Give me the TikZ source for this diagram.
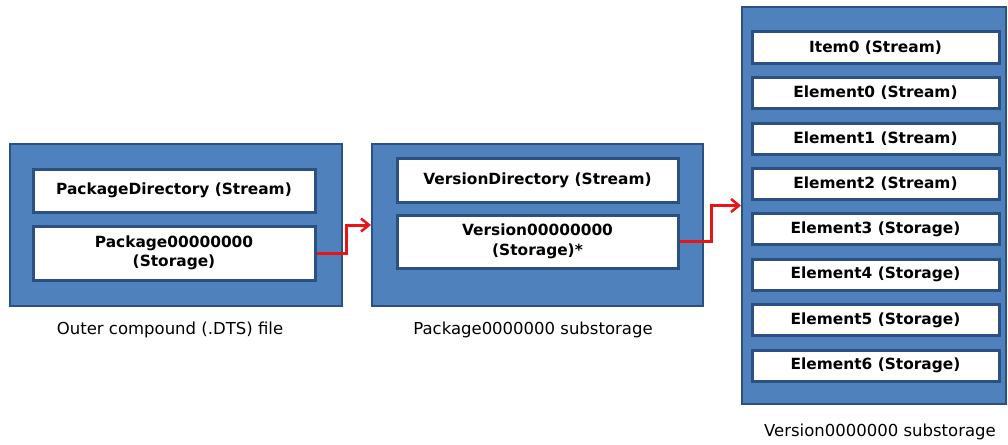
\documentclass[tikz,border=0pt]{standalone}
\usepackage{fontspec}
\setmainfont{DejaVu Sans}
\usetikzlibrary{arrows.meta}
\definecolor{boxblue}{RGB}{79,129,189}
\definecolor{boxedge}{RGB}{45,80,130}
\definecolor{arrowred}{RGB}{235,20,20}
\tikzset{
  outerbox/.style={draw=boxedge, line width=2pt, fill=boxblue, inner sep=0pt},
  innerbox/.style={draw=boxedge, line width=3pt, fill=white, inner sep=0pt, align=center,
    font=\fontsize{15.4}{19.5}\selectfont\bfseries},
  caption/.style={font=\fontsize{16.5}{18}\selectfont, inner sep=0pt},
  redarrow/.style={draw=arrowred, line width=3pt, -{Straight Barb[length=8pt,width=13pt,line width=2.5pt]}}
}
\begin{document}
\begin{tikzpicture}[x=1pt,y=-1pt]
\useasboundingbox (0,0) rectangle (1008,444);
% outer boxes
\node[outerbox, minimum width=332pt, minimum height=162pt] (outerL) at (176,225) {};
\node[outerbox, minimum width=331pt, minimum height=162pt] (outerM) at (537.5,225) {};
\node[outerbox, minimum width=264pt, minimum height=397pt] (outerR) at (874,205.5) {};
% left inner
\node[innerbox, minimum width=282pt, minimum height=43pt] (pkgdir) at (174,190.5) {PackageDirectory (Stream)};
\node[innerbox, minimum width=282pt, minimum height=54pt] (pkg) at (174,253) {Package00000000\\(Storage)};
% middle inner
\node[innerbox, minimum width=281pt, minimum height=44pt] (verdir) at (537.5,180) {VersionDirectory (Stream)};
\node[innerbox, minimum width=281pt, minimum height=53pt] (ver) at (537.5,241.5) {Version00000000\\(Storage)*};
% right inner
\foreach \n/\t/\yc in {it0/Item0 (Stream)/47.5, e0/Element0 (Stream)/92.5, e1/Element1 (Stream)/138.5,
  e2/Element2 (Stream)/184, e3/Element3 (Storage)/229, e4/Element4 (Storage)/274.5,
  e5/Element5 (Storage)/320, e6/Element6 (Storage)/365.5}
  \node[innerbox, minimum width=247pt, minimum height=31pt] (\n) at (875.5,\yc) {\t};
% captions
\node[caption] (capL) at (170,330) {Outer compound (.DTS) file};
\node[caption] (capM) at (533,330) {Package0000000 substorage};
\node[caption] (capR) at (880,432) {Version0000000 substorage};
% arrows
\draw[redarrow] (pkg.east) -- ++(30,0) |- (outerM.west);
\draw[redarrow] (ver.east) -- ++(32,0) |- (outerR.west);
\end{tikzpicture}
\end{document}
